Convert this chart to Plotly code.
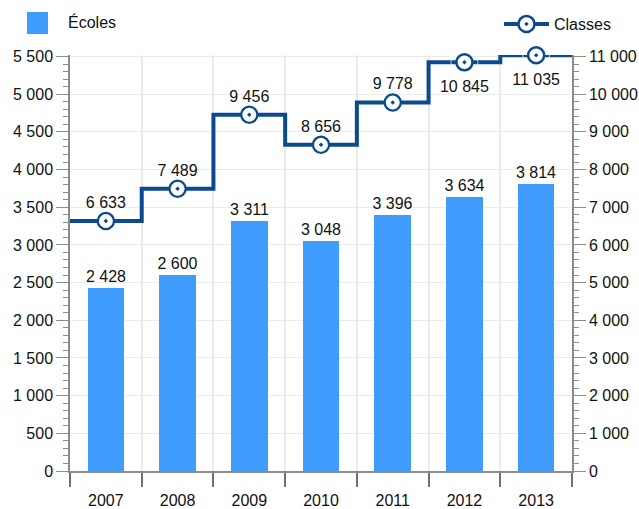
import plotly.graph_objects as go

years = ["2007", "2008", "2009", "2010", "2011", "2012", "2013"]
ecoles = [2428, 2600, 3311, 3048, 3396, 3634, 3814]
classes = [6633, 7489, 9456, 8656, 9778, 10845, 11035]
# the two highest points carry their labels underneath
class_label_pos = ["top center"] * 5 + ["bottom center"] * 2
class_label_gap = [13] * 5 + [27] * 2

BAR = "#3f9cfd"
LINE = "#0c4a90"
GRID = "#ebebeb"
AXIS = "#8c8c8c"
FONT = "Liberation Sans, Arial, sans-serif"
FS = 16

# plot-area geometry in pixels (used for placing the legend pieces)
L, R, T, B = 70, 67, 55, 38
PW, PH = 639 - L - R, 509 - T - B


def fmt(v):
    return f"{v:,}".replace(",", " ")


def px_x(x):
    return (x - L) / PW


def px_y(y):
    return (509 - B - y) / PH


pos = list(range(len(years)))

fig = go.Figure()

fig.add_trace(go.Bar(
    x=pos, y=ecoles, width=0.51,
    marker=dict(color=BAR, line=dict(width=0)),
    text=[fmt(v) for v in ecoles], textposition="outside",
    constraintext="none",
    textfont=dict(size=FS, color="#111111", family=FONT),
    cliponaxis=False, showlegend=False, name="Écoles",
))

# step line running across the full width, changing at category boundaries
fig.add_trace(go.Scatter(
    x=[pos[0] - 0.5] + pos + [pos[-1] + 0.5],
    y=[classes[0]] + classes + [classes[-1]],
    mode="lines", line=dict(color=LINE, width=4, shape="hvh"),
    yaxis="y2", showlegend=False, cliponaxis=False, hoverinfo="skip",
))

marker_style = dict(symbol="circle-dot", size=16, color="white",
                    line=dict(color=LINE, width=2.5))

fig.add_trace(go.Scatter(
    x=pos, y=classes, yaxis="y2", mode="markers", name="Classes",
    marker=marker_style, cliponaxis=False, showlegend=False,
))

# value labels; the invisible marker size sets the label's distance
fig.add_trace(go.Scatter(
    x=pos, y=classes, yaxis="y2", mode="markers+text",
    marker=dict(size=class_label_gap, color="rgba(0,0,0,0)"),
    text=[fmt(v) for v in classes], textposition=class_label_pos,
    textfont=dict(size=FS, color="#111111", family=FONT),
    cliponaxis=False, showlegend=False, hoverinfo="skip",
))

# legend entry for the line series
fig.add_trace(go.Scatter(
    x=[None], y=[None], yaxis="y2", mode="lines+markers", name="Classes",
    marker=marker_style, line=dict(color=LINE, width=4),
    legend="legend2",
))

# legend entry for the bars
fig.add_shape(type="rect", xref="paper", yref="paper",
              x0=px_x(27), x1=px_x(48), y0=px_y(34), y1=px_y(12),
              fillcolor=BAR, line=dict(width=0))
fig.add_annotation(text="Écoles", xref="paper", yref="paper",
                   x=px_x(66), y=px_y(22),
                   xanchor="left", yanchor="middle", showarrow=False,
                   font=dict(size=FS, color="#111111", family=FONT))

fig.update_layout(
    width=639, height=509,
    margin=dict(l=L, r=R, t=T, b=B, autoexpand=False),
    paper_bgcolor="white", plot_bgcolor="white",
    font=dict(family=FONT, size=FS, color="#111111"),
    separators=", ",
    bargap=0,
    legend2=dict(x=px_x(499), y=px_y(24),
                 xanchor="left", yanchor="middle", itemwidth=45,
                 bgcolor="rgba(0,0,0,0)", font=dict(size=FS, family=FONT)),
    xaxis=dict(
        range=[-0.5, len(years) - 0.5], automargin=False,
        tickmode="array", tickvals=pos, ticktext=years,
        ticks="outside", ticklen=14, tickcolor="rgba(0,0,0,0)",
        showgrid=False, zeroline=False,
        showline=True, linecolor=AXIS, linewidth=1.5,
        tickfont=dict(size=FS, family=FONT),
        minor=dict(tickmode="array",
                   tickvals=[p - 0.5 for p in pos] + [pos[-1] + 0.5],
                   ticks="outside", ticklen=14, tickcolor="#707070",
                   tickwidth=1.5, showgrid=True, gridcolor=GRID, gridwidth=1.5),
    ),
    yaxis=dict(
        range=[0, 5520], automargin=False, tickmode="array",
        tickvals=list(range(0, 5501, 500)), tickformat=",d",
        ticks="outside", ticklen=12, tickcolor=AXIS, tickwidth=1.2,
        showline=True, linecolor=AXIS, linewidth=1.5,
        showgrid=True, gridcolor=GRID, gridwidth=1.2, zeroline=False,
        tickfont=dict(size=FS, family=FONT),
        minor=dict(tickmode="array", tickvals=list(range(0, 5501, 100)),
                   ticks="outside", ticklen=5,
                   tickcolor=AXIS, tickwidth=1.2, showgrid=False),
    ),
    yaxis2=dict(
        range=[0, 11040], automargin=False, tickmode="array",
        tickvals=list(range(0, 11001, 1000)), tickformat=",d",
        overlaying="y", side="right",
        ticks="outside", ticklen=12, tickcolor=AXIS, tickwidth=1.2,
        showline=True, linecolor=AXIS, linewidth=1.5,
        showgrid=False, zeroline=False,
        tickfont=dict(size=FS, family=FONT),
        minor=dict(tickmode="array", tickvals=list(range(0, 11001, 200)),
                   ticks="outside", ticklen=5,
                   tickcolor=AXIS, tickwidth=1.2, showgrid=False),
    ),
)

fig.write_html("out.html")
